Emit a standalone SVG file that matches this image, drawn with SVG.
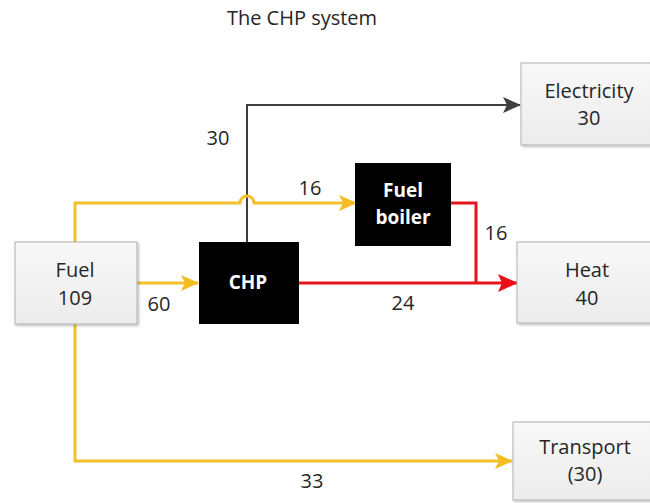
<svg xmlns="http://www.w3.org/2000/svg" width="650" height="503" viewBox="0 0 650 503">
<defs>
<linearGradient id="g" x1="0" y1="0" x2="0" y2="1">
<stop offset="0" stop-color="#f8f8f8"/>
<stop offset="1" stop-color="#ececec"/>
</linearGradient>
<marker id="ay" markerWidth="18" markerHeight="18" refX="17" refY="9" orient="auto" markerUnits="userSpaceOnUse">
<path d="M0,1 L18,9 L0,17 L4,9 Z" fill="#f4bd22"/>
</marker>
<marker id="ar" markerWidth="20" markerHeight="20" refX="19" refY="10" orient="auto" markerUnits="userSpaceOnUse">
<path d="M0,1 L20,10 L0,19 L4,10 Z" fill="#ea1019"/>
</marker>
<marker id="ak" markerWidth="18" markerHeight="18" refX="17" refY="9" orient="auto" markerUnits="userSpaceOnUse">
<path d="M0,1 L18,9 L0,17 L4,9 Z" fill="#3f3f3f"/>
</marker>
<filter id="sh" x="-10%" y="-10%" width="125%" height="125%">
<feDropShadow dx="1.5" dy="1.5" stdDeviation="1" flood-color="#000" flood-opacity="0.25"/>
</filter>
</defs>
<style>
text{font-family:"Open Sans","Liberation Sans",sans-serif;font-size:20px;fill:#262626}
.c{text-anchor:middle}
.w{fill:#ffffff;font-weight:bold;font-size:19px}
.box{fill:url(#g);stroke:#b0b0b0;stroke-width:1;filter:url(#sh)}
.blk{fill:#000000}
.y{fill:none;stroke:#f4c02c;stroke-width:3}
.r{fill:none;stroke:#e8141b;stroke-width:3}
.k{fill:none;stroke:#3f3f3f;stroke-width:2}
</style>
<rect width="650" height="503" fill="#ffffff"/>
<text x="302" y="25" class="c">The CHP system</text>
<g id="connectors">
<path class="k" d="M247,242 V105 H520" marker-end="url(#ak)"/>
<path class="y" d="M75,242 V203 H240 A7,7 0 0 1 254,203 H356" marker-end="url(#ay)"/>
<path class="y" d="M137,283 H198" marker-end="url(#ay)"/>
<path class="r" d="M299,283 H517" marker-end="url(#ar)"/>
<path class="r" d="M451,203 H476 V283"/>
<path class="y" d="M75,324 V461 H512" marker-end="url(#ay)"/>
</g>
<g id="labels">
<text x="218" y="145" class="c">30</text>
<text x="310" y="195" class="c">16</text>
<text x="159" y="311" class="c">60</text>
<text x="403" y="310" class="c">24</text>
<text x="496" y="240" class="c">16</text>
<text x="312" y="488" class="c">33</text>
</g>
<g id="fuel">
<rect class="box" x="15" y="242" width="122" height="82"/>
<text x="75" y="277" class="c">Fuel</text>
<text x="75" y="305" class="c">109</text>
</g>
<g id="chp">
<rect class="blk" x="199" y="242" width="100" height="82"/>
<text x="248" y="289" class="c w">CHP</text>
</g>
<g id="boiler">
<rect class="blk" x="355" y="163" width="96" height="83"/>
<text x="403" y="197" class="c w">Fuel</text>
<text x="403" y="224" class="c w">boiler</text>
</g>
<g id="electricity">
<rect class="box" x="521" y="63" width="132" height="82"/>
<text x="589" y="98" class="c">Electricity</text>
<text x="589" y="125" class="c">30</text>
</g>
<g id="heat">
<rect class="box" x="517" y="242" width="136" height="81"/>
<text x="587" y="277" class="c">Heat</text>
<text x="587" y="305" class="c">40</text>
</g>
<g id="transport">
<rect class="box" x="513" y="422" width="140" height="78"/>
<text x="585" y="454" class="c">Transport</text>
<text x="585" y="481" class="c">(30)</text>
</g>
</svg>
